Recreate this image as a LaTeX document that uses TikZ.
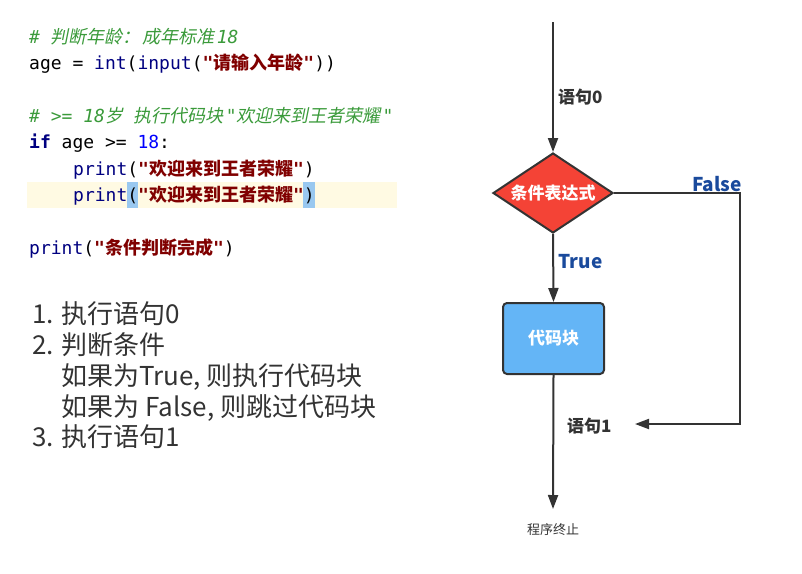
\documentclass[tikz,border=0pt]{standalone}
\usepackage{fontspec}
\setmonofont{DejaVu Sans Mono}
\newfontfamily\cjk{Noto Sans CJK SC}
\newfontfamily\cjkslant{Noto Sans CJK SC}[FakeSlant=0.2]
\usetikzlibrary{shapes.geometric,arrows.meta}

\definecolor{cmtgreen}{HTML}{3A9A3A}
\definecolor{kwblue}{HTML}{000080}
\definecolor{numblue}{HTML}{0000FF}
\definecolor{strred}{HTML}{800000}
\definecolor{linebg}{HTML}{FFFAE3}
\definecolor{bracebg}{HTML}{99C8F0}
\definecolor{listgray}{HTML}{333333}
\definecolor{flowgray}{HTML}{333333}
\definecolor{condred}{HTML}{F44336}
\definecolor{blockblue}{HTML}{64B5F6}
\definecolor{labelblue}{HTML}{1A4A9C}

\newcommand{\pystr}[1]{\textcolor{strred}{\bfseries"{\cjk\bfseries #1}"}}
\newcommand{\kw}[1]{\textcolor{kwblue}{#1}}

\begin{document}
\begin{tikzpicture}[x=1pt, y=-1pt,
  code/.style={anchor=base west, inner sep=0pt, font=\ttfamily\fontsize{18}{22}\selectfont},
  listtext/.style={anchor=base west, inner sep=0pt, text=listgray, font=\cjk\fontsize{26}{30}\selectfont},
  flow/.style={draw=flowgray, line width=2pt, -{Triangle[length=14pt,width=10pt]}},
  cond/.style={diamond, draw=flowgray, line width=2pt, fill=condred, minimum width=120pt,
    minimum height=80pt, inner sep=0pt, text=white, font=\cjk\bfseries\fontsize{17}{20}\selectfont},
  blockbox/.style={rectangle, rounded corners=4pt, draw=flowgray, line width=2pt, fill=blockblue,
    minimum width=101pt, minimum height=71pt, text=white, font=\cjk\bfseries\fontsize{17}{20}\selectfont},
  steplabel/.style={anchor=west, inner sep=0pt, text=flowgray, font=\cjk\bfseries\fontsize{17}{20}\selectfont},
  branchlabel/.style={inner sep=0pt, text=labelblue, font=\cjk\bfseries\fontsize{19}{22}\selectfont}]
  \useasboundingbox (0,0) rectangle (802,573);

  % code
  \fill[linebg] (27,182) rectangle (397,208);
  \fill[bracebg] (127,182) rectangle (138,208);
  \fill[bracebg] (303,182) rectangle (315,208);

  \node[code] (c1) at (29,43) {\color{cmtgreen}\itshape\# {\cjkslant 判断年龄：\kern2pt 成年标准}\kern2pt 18};
  \node[code] (c2) at (29,69) {age = \kw{int}(\kw{input}(\pystr{请输入年龄}))};
  \node[code] (c3) at (29,122) {\color{cmtgreen}\itshape\# >= 18{\cjkslant 岁} {\cjkslant 执行代码块}\kern2pt"{\cjkslant 欢迎来到王者荣耀}\kern2pt"};
  \node[code] (c4) at (29,148) {\kw{\bfseries if} age >= \textcolor{numblue}{18}:};
  \node[code] (c5) at (73,175) {\kw{print}(\pystr{欢迎来到王者荣耀})};
  \node[code] (c6) at (73,201) {\kw{print}(\pystr{欢迎来到王者荣耀})};
  \node[code] (c7) at (29,254) {\kw{print}(\pystr{条件判断完成})};

  % steps
  \node[listtext] (l1) at (32,323) {1. 执行语句0};
  \node[listtext] (l2) at (32,354) {2. 判断条件};
  \node[listtext] (l3) at (61,385) {如果为True, 则执行代码块};
  \node[listtext] (l4) at (61,416) {如果为 False, 则跳过代码块};
  \node[listtext] (l5) at (32,446) {3. 执行语句1};

  % flow chart
  \coordinate (top) at (553,22);
  \node[cond] (cond) at (553,193) {\makebox[0pt]{条件表达式}};
  \node[blockbox] (blk) at (553.5,338.5) {代码块};
  \coordinate (corner) at (740,424);
  \coordinate (join) at (635,424);
  \coordinate (stoptip) at (553,509);
  \node[inner sep=0pt, text=flowgray, font=\cjk\fontsize{13}{15}\selectfont] (stop) at (553,530) {程序终止};

  \draw[flow] (top) -- (cond.north);
  \draw[flow] (cond.south) -- (blk.north);
  \draw[flow] (blk.south) -- (stoptip);
  \draw[flow] (cond.east) -| (corner) -- (join);

  \node[steplabel] (s0) at (558,97) {语句0};
  \node[steplabel] (s1) at (567,426) {语句1};
  \node[branchlabel] (t) at (580.5,262) {True};
  \node[branchlabel] (f) at (717,184) {False};
\end{tikzpicture}
\end{document}
